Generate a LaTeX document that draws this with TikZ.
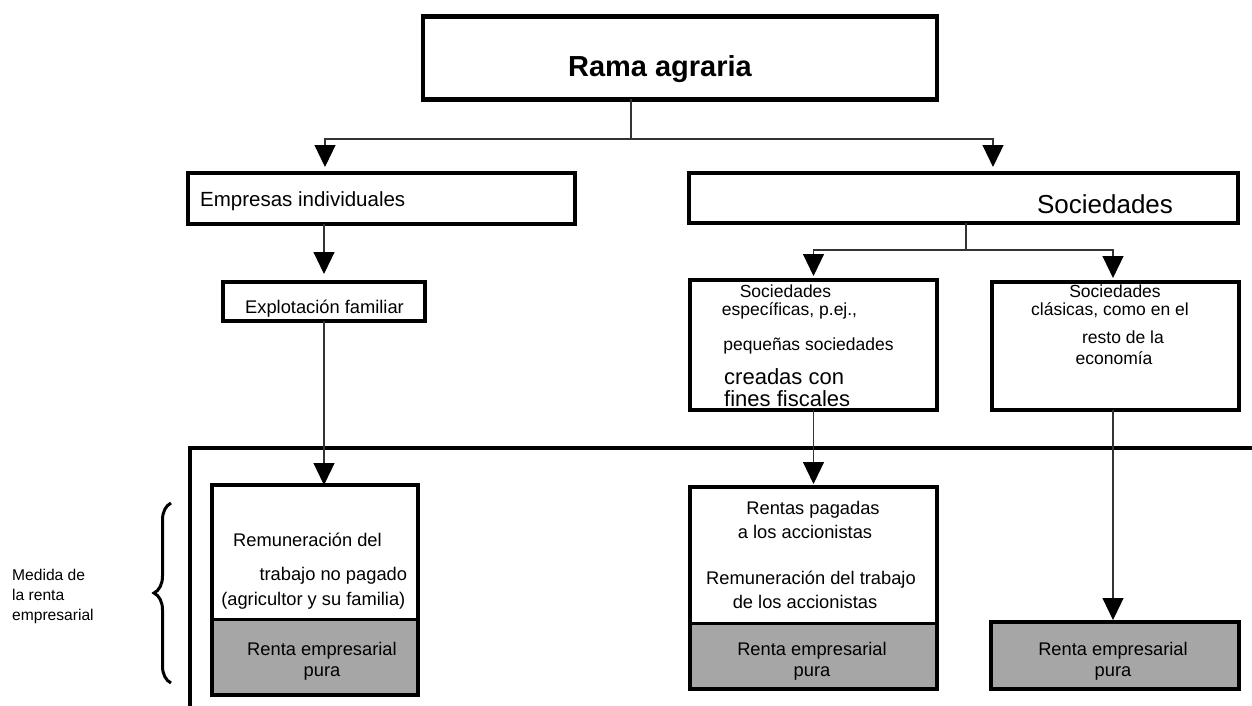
\documentclass[tikz,border=0pt]{standalone}
\usepackage{fontspec}
\setmainfont{Liberation Sans}
\usetikzlibrary{arrows.meta}
\usetikzlibrary{decorations.pathreplacing}
\definecolor{rentagray}{RGB}{166,166,166}

\begin{document}
\begin{tikzpicture}[x=1pt, y=-1pt,
  caja/.style={draw, line width=4.2pt, inner sep=0, outer sep=0},
  txt/.style={anchor=base, inner sep=0, font=\fontsize{18.3}{22}\selectfont},
  conn/.style={black!80, line width=1.2pt},
  flecha/.style={conn, -{Triangle[width=21pt, length=22pt, color=black]}, shorten >=#1},
  flecha/.default=6pt,
  renta/.style={path picture={
    \fill[rentagray] (path picture bounding box.south west) rectangle ([yshift=#1]path picture bounding box.south east);
    \draw[line width=3pt] ([yshift=#1]path picture bounding box.south west) -- ([yshift=#1]path picture bounding box.south east);}}]
\useasboundingbox (0,0) rectangle (1252,706);
\node[caja, minimum width=514pt, minimum height=83pt] (rama) at (680,58) {};
\node[caja, minimum width=387pt, minimum height=51pt] (emp) at (381.5,198.5) {};
\node[caja, minimum width=549pt, minimum height=50pt] (soc) at (963.5,198) {};
\node[caja, minimum width=202pt, minimum height=39pt] (expl) at (324,301.5) {};
\node[caja, minimum width=247pt, minimum height=130pt] (spec) at (813.5,345) {};
\node[caja, minimum width=247pt, minimum height=128pt] (clas) at (1115.5,346) {};
\node[caja, renta=76pt, minimum width=206pt, minimum height=210pt] (famil) at (315,590) {};
\node[caja, renta=66pt, minimum width=247pt, minimum height=202pt] (accion) at (813.5,588) {};
\node[caja, fill=rentagray, minimum width=248pt, minimum height=67pt] (purab) at (1115,655.5) {};
\draw[line width=4pt] (190,706) -- (190,448) -- (1260,448);
\node[txt, font=\bfseries\fontsize{29}{34}\selectfont] (ramatxt) at (660,77) {Rama agraria};
\node[txt, anchor=base west, font=\fontsize{20.5}{24}\selectfont] (emptxt) at (200,206) {Empresas individuales};
\node[txt, font=\fontsize{26}{30}\selectfont] (soctxt) at (1105,213) {Sociedades};
\node[txt] (expltxt) at (324.5,313) {Explotación familiar};
\foreach \px/\py/\t [count=\k] in {785.5/297/Sociedades, 789.5/315/{específicas, p.ej.,}, 808.5/350/pequeñas sociedades}
  \node[txt, font=\fontsize{17.5}{21}\selectfont] (spec\k) at (\px,\py) {\t};
\node[txt, anchor=base west, font=\fontsize{22}{26}\selectfont] (specd) at (724,384) {creadas con};
\node[txt, anchor=base west, font=\fontsize{22}{26}\selectfont] (spece) at (724,406) {fines fiscales};
\foreach \px/\py/\t [count=\k] in {1115/297/Sociedades, 1110/315/{clásicas, como en el}, 1123/343/resto de la, 1114/364/economía}
  \node[txt, font=\fontsize{17.5}{21}\selectfont] (clas\k) at (\px,\py) {\t};
\foreach \px/\py/\t [count=\k] in {307.5/546/Remuneración del, 333.3/580/trabajo no pagado, 313.3/605/(agricultor y su familia)}
  \node[txt] (famil\k) at (\px,\py) {\t};
\foreach \px/\py/\t [count=\k] in {813/514/Rentas pagadas, 805/538/a los accionistas, 811/584/Remuneración del trabajo, 805/608/de los accionistas}
  \node[txt] (accion\k) at (\px,\py) {\t};
\foreach \px/\nm in {322/rpa, 812/rpb, 1113/rpc} {
  \node[txt] (\nm1) at (\px,655) {Renta empresarial};
  \node[txt] (\nm2) at (\px,676) {pura};
}
\foreach \py/\t [count=\k] in {580/Medida de, 600/la renta, 620/empresarial}
  \node[txt, anchor=base west, font=\fontsize{15.6}{20}\selectfont] (medida\k) at (12,\py) {\t};
\draw[decorate, decoration={brace, amplitude=17pt}, line width=3pt] (171,683) -- (171,503);
\coordinate (colA) at (325,0);
\coordinate (colB) at (993,0);
\coordinate (colD) at (1113,0);
\coordinate (forkA) at (631,139);
\coordinate (forkB) at (966,250);
\draw[conn] (rama.south -| forkA) -- (forkA);
\draw[flecha] (forkA) -| (emp.north -| colA);
\draw[flecha] (forkA) -| (soc.north -| colB);
\draw[flecha=8pt] (emp.south -| expl.north) -- (expl.north);
\draw[conn] (soc.south -| forkB) -- (forkB);
\draw[flecha=4pt] (forkB) -| (spec.north);
\draw[flecha=4pt] (forkB) -| (clas.north -| colD);
\draw[flecha=0pt] (expl.south) -- (famil.north -| expl.south);
\draw[flecha=3pt] (spec.south) -- (accion.north);
\draw[flecha=2pt] (clas.south -| colD) -- (purab.north -| colD);
\end{tikzpicture}
\end{document}
